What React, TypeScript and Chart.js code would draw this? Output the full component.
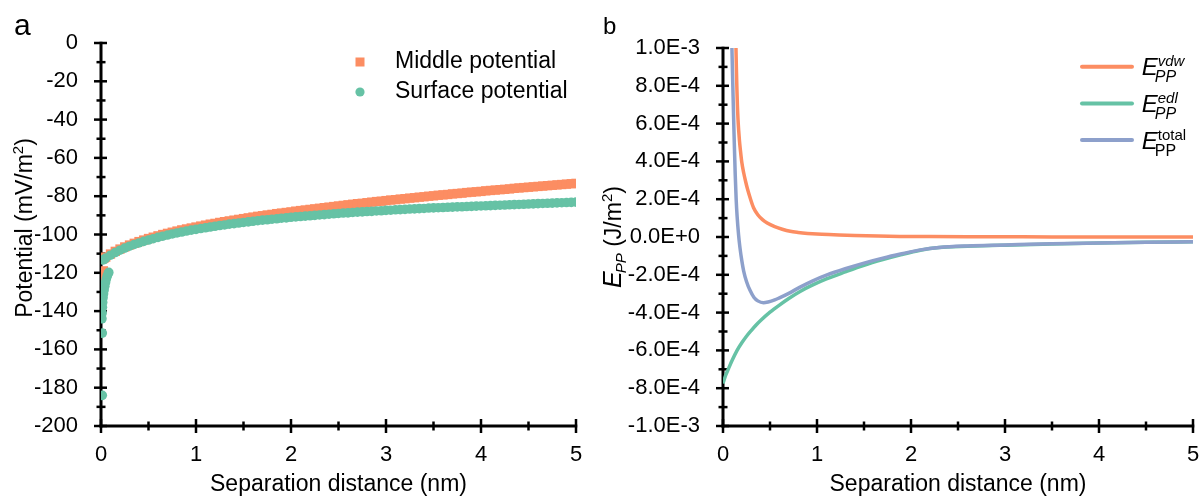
import React, { useEffect, useRef } from 'react';
import { Chart, registerables } from 'chart.js';

Chart.register(...registerables);

const FONT = "'Liberation Sans', Arial, Helvetica, sans-serif";
const ORANGE = '#FC8D62';
const GREEN = '#66C2A5';
const BLUE = '#8DA0CB';

// ---------- Panel a data ----------
const aCurveX = [0.05,0.1,0.15,0.2,0.25,0.3,0.35,0.4,0.45,0.5,0.55,0.6,0.65,0.7,0.75,0.8,0.85,0.9,0.95,1,1.05,1.1,1.15,1.2,1.25,1.3,1.35,1.4,1.45,1.5,1.55,1.6,1.65,1.7,1.75,1.8,1.85,1.9,1.95,2,2.05,2.1,2.15,2.2,2.25,2.3,2.35,2.4,2.45,2.5,2.55,2.6,2.65,2.7,2.75,2.8,2.85,2.9,2.95,3,3.05,3.1,3.15,3.2,3.25,3.3,3.35,3.4,3.45,3.5,3.55,3.6,3.65,3.7,3.75,3.8,3.85,3.9,3.95,4,4.05,4.1,4.15,4.2,4.25,4.3,4.35,4.4,4.45,4.5,4.55,4.6,4.65,4.7,4.75,4.8,4.85,4.9,4.95,5];
const middleCurveY = [-111.8,-110.2,-108.8,-107.6,-106.5,-105.5,-104.6,-103.7,-102.9,-102.1,
  -101.4,-100.7,-100.0,-99.4,-98.8,-98.2,-97.6,-97.1,-96.6,-96.1,
  -95.6,-95.1,-94.6,-94.2,-93.7,-93.3,-92.9,-92.5,-92.1,-91.7,
  -91.3,-90.9,-90.5,-90.2,-89.8,-89.5,-89.1,-88.8,-88.5,-88.2,
  -87.8,-87.5,-87.2,-86.9,-86.6,-86.3,-86.0,-85.7,-85.4,-85.1,
  -84.8,-84.5,-84.2,-83.9,-83.7,-83.4,-83.1,-82.8,-82.6,-82.3,
  -82.0,-81.8,-81.5,-81.3,-81.0,-80.8,-80.5,-80.3,-80.0,-79.8,
  -79.5,-79.3,-79.1,-78.8,-78.6,-78.4,-78.1,-77.9,-77.7,-77.5,
  -77.2,-77.0,-76.8,-76.6,-76.4,-76.2,-75.9,-75.7,-75.5,-75.3,
  -75.1,-74.9,-74.7,-74.5,-74.3,-74.1,-73.9,-73.7,-73.5,-73.3];
const surfaceCurveY = [-112.3,-110.8,-109.4,-108.2,-107.1,-106.1,-105.2,-104.4,-103.6,-102.9,
  -102.2,-101.5,-100.9,-100.3,-99.7,-99.2,-98.7,-98.2,-97.7,-97.3,
  -96.9,-96.5,-96.1,-95.7,-95.3,-95.0,-94.6,-94.3,-94.0,-93.7,
  -93.4,-93.1,-92.8,-92.5,-92.3,-92.0,-91.8,-91.5,-91.3,-91.0,
  -90.8,-90.6,-90.4,-90.2,-90.0,-89.8,-89.6,-89.4,-89.2,-89.0,
  -88.8,-88.7,-88.5,-88.3,-88.2,-88.0,-87.9,-87.7,-87.6,-87.4,
  -87.3,-87.1,-87.0,-86.9,-86.7,-86.6,-86.5,-86.4,-86.2,-86.1,
  -86.0,-85.9,-85.8,-85.7,-85.6,-85.5,-85.4,-85.3,-85.2,-85.1,
  -85.0,-84.9,-84.8,-84.7,-84.6,-84.5,-84.4,-84.3,-84.2,-84.1,
  -84.0,-83.9,-83.8,-83.7,-83.6,-83.5,-83.4,-83.3,-83.2,-83.1];
const middleNearX = [0.01, 0.015, 0.02, 0.025, 0.02, 0.035];
const middleNearY = [-124, -122, -120.5, -119, -112.6, -112.2];
const surfaceNearX = [0.014, 0.014, 0.01, 0.012, 0.015, 0.018, 0.022, 0.027, 0.033, 0.04, 0.048, 0.056, 0.065, 0.075, 0.082, 0.025, 0.035];
const surfaceNearY = [-184, -151.5, -144, -141, -138, -135.5, -133, -131, -129, -127, -125, -123.3, -121.8, -120.5, -119.8, -113.3, -112.9];

const xTicks = [0, 1, 2, 3, 4, 5];
const xTickLabels = ['0', '1', '2', '3', '4', '5'];
const aYTicks = [-200, -180, -160, -140, -120, -100, -80, -60, -40, -20, 0];
const aYTickLabels = ['-200', '-180', '-160', '-140', '-120', '-100', '-80', '-60', '-40', '-20', '0'];

// ---------- Panel b data ----------
const vdwX = [0.138,0.142,0.147,0.153,0.16,0.166,0.175,0.185,0.2,0.22,0.24,0.26,0.29,0.325,0.37,0.42,0.47,0.55,0.63,0.715,0.8,0.9,1.0,1.18,1.4,1.65,1.88,2.2,2.6,3.0,3.5,4.0,4.5,5.0];
const vdwY = [1.0e-3,9.0e-4,8.0e-4,7.0e-4,6.2e-4,5.7e-4,5.1e-4,4.6e-4,3.95e-4,3.4e-4,2.95e-4,2.55e-4,2.05e-4,1.55e-4,1.18e-4,9.2e-5,7.4e-5,5.5e-5,4.1e-5,3.0e-5,2.4e-5,1.9e-5,1.55e-5,1.2e-5,8e-6,5e-6,3e-6,2e-6,1.2e-6,8e-7,5e-7,3e-7,2e-7,1e-7];
const edlX = [0,0.03,0.06,0.1,0.15,0.2,0.25,0.3,0.35,0.4,0.5,0.6,0.7,0.82,0.95,1.1,1.3,1.5,1.7,1.9,2.1,2.3,2.6,3.0,3.5,4.0,4.5,5.0];
const edlY = [-7.75e-4,-7.3e-4,-6.95e-4,-6.5e-4,-6.0e-4,-5.6e-4,-5.25e-4,-4.95e-4,-4.67e-4,-4.42e-4,-3.98e-4,-3.6e-4,-3.25e-4,-2.88e-4,-2.55e-4,-2.22e-4,-1.85e-4,-1.5e-4,-1.2e-4,-9.3e-5,-7.0e-5,-5.6e-5,-4.9e-5,-4.3e-5,-3.7e-5,-3.2e-5,-2.8e-5,-2.5e-5];
const totalX = [0.095,0.1,0.105,0.11,0.115,0.12,0.13,0.14,0.15,0.166,0.18,0.2,0.22,0.25,0.29,0.33,0.37,0.43,0.48,0.55,0.6,0.7,0.82,0.95,1.1,1.3,1.5,1.7,1.9,2.1,2.3,2.6,3.0,3.5,4.0,4.5,5.0];
const totalY = [1.0e-3,8.9e-4,7.9e-4,6.9e-4,5.9e-4,5.0e-4,3.3e-4,2.0e-4,1.1e-4,1e-5,-5.5e-5,-1.25e-4,-1.8e-4,-2.35e-4,-2.85e-4,-3.2e-4,-3.38e-4,-3.48e-4,-3.44e-4,-3.33e-4,-3.22e-4,-2.98e-4,-2.65e-4,-2.33e-4,-2.02e-4,-1.68e-4,-1.38e-4,-1.12e-4,-8.9e-5,-6.8e-5,-5.5e-5,-4.7e-5,-4.2e-5,-3.6e-5,-3.2e-5,-2.8e-5,-2.5e-5];
const bYTicks = [-1e-3, -8e-4, -6e-4, -4e-4, -2e-4, 0, 2e-4, 4e-4, 6e-4, 8e-4, 1e-3];
const bYTickLabels = ['-1.0E-3', '-8.0E-4', '-6.0E-4', '-4.0E-4', '-2.0E-4', '0.0E+0', '2.0E-4', '4.0E-4', '6.0E-4', '8.0E-4', '1.0E-3'];

// ---------- helpers ----------
type Run = { t: string; size: number; italic?: boolean; dy?: number; dx?: number; hold?: boolean };
const runFont = (r: Run) => `${r.italic ? 'italic ' : ''}${r.size}px ${FONT}`;
function runsWidth(ctx: CanvasRenderingContext2D, runs: Run[]) {
  let w = 0, held = 0;
  for (const r of runs) {
    ctx.font = runFont(r);
    const rw = ctx.measureText(r.t).width + (r.dx || 0);
    if (r.hold) held = Math.max(held, rw);
    else { w += Math.max(rw, held); held = 0; }
  }
  return w + held;
}
function drawRuns(ctx: CanvasRenderingContext2D, runs: Run[], x: number, y: number) {
  let cx = x, held = 0;
  for (const r of runs) {
    ctx.font = runFont(r);
    ctx.fillText(r.t, cx + (r.dx || 0), y + (r.dy || 0));
    const rw = ctx.measureText(r.t).width + (r.dx || 0);
    if (r.hold) held = Math.max(held, rw);
    else { cx += Math.max(rw, held); held = 0; }
  }
}

function axesPlugin(xVals: number[], yVals: number[]) {
  return {
    id: 'crossAxes',
    beforeDatasetsDraw(chart: any) {
      const { ctx } = chart;
      const { left, right, top, bottom } = chart.chartArea;
      const xs = chart.scales.x, ys = chart.scales.y;
      ctx.save();
      ctx.strokeStyle = '#000';
      ctx.lineCap = 'butt';
      const seg = (x1: number, y1: number, x2: number, y2: number) => {
        ctx.beginPath(); ctx.moveTo(x1, y1); ctx.lineTo(x2, y2); ctx.stroke();
      };
      ctx.lineWidth = 2.5;
      yVals.forEach((v) => { const y = ys.getPixelForValue(v); seg(left - 7, y, left + 6, y); });
      for (let i = 0; i < yVals.length - 1; i++) {
        const y = ys.getPixelForValue((yVals[i] + yVals[i + 1]) / 2);
        seg(left - 4.5, y, left + 4.5, y);
      }
      xVals.forEach((v) => { const x = xs.getPixelForValue(v); seg(x, bottom - 7, x, bottom + 7); });
      for (let i = 0; i < xVals.length - 1; i++) {
        const x = xs.getPixelForValue((xVals[i] + xVals[i + 1]) / 2);
        seg(x, bottom - 4.5, x, bottom + 4.5);
      }
      ctx.lineWidth = 3;
      seg(left, top - 1.25, left, bottom + 1.5);
      seg(left - 1.5, bottom, right + 1.25, bottom);
      ctx.restore();
    },
  };
}

function baseScales(yTicks: number[], yLabels: string[], yMin: number, yMax: number, yWidth: number, yPad: number) {
  return {
    x: {
      type: 'linear', min: 0, max: 5,
      afterBuildTicks: (s: any) => { s.ticks = xTicks.map((v) => ({ value: v })); },
      afterFit: (s: any) => { s.height = 74; s.paddingLeft = 0; s.paddingRight = 0; },
      grid: { display: false }, border: { display: false },
      ticks: { autoSkip: false, maxRotation: 0, padding: 8, color: '#000', font: { family: FONT, size: 22 }, callback: (_v: any, i: number) => xTickLabels[i] },
      title: { display: true, text: 'Separation distance (nm)', color: '#000', font: { family: FONT, size: 23 }, padding: { top: 0, bottom: 2 } },
    },
    y: {
      type: 'linear', min: yMin, max: yMax,
      afterBuildTicks: (s: any) => { s.ticks = yTicks.map((v) => ({ value: v })); },
      afterFit: (s: any) => { s.width = yWidth; s.paddingTop = 0; s.paddingBottom = 0; },
      grid: { display: false }, border: { display: false },
      ticks: { autoSkip: false, padding: yPad, color: '#000', font: { family: FONT, size: 22 }, callback: (_v: any, i: number) => yLabels[i] },
    },
  };
}

const pts = (xs: number[], ys: number[]) => xs.map((x, i) => ({ x, y: ys[i] }));

export default function App() {
  const aRef = useRef<HTMLCanvasElement>(null);
  const bRef = useRef<HTMLCanvasElement>(null);

  useEffect(() => {
    const legendA = {
      id: 'legendA',
      afterDraw(chart: any) {
        const ctx = chart.ctx as CanvasRenderingContext2D;
        ctx.save();
        ctx.fillStyle = ORANGE;
        ctx.fillRect(355.5, 57.5, 9, 9);
        ctx.fillStyle = GREEN;
        ctx.beginPath(); ctx.arc(360, 92, 4.6, 0, Math.PI * 2); ctx.fill();
        ctx.fillStyle = '#000';
        ctx.font = `23px ${FONT}`;
        ctx.textBaseline = 'middle';
        ctx.textAlign = 'left';
        ctx.fillText('Middle potential', 395, 62);
        ctx.fillText('Surface potential', 395, 92);
        ctx.textBaseline = 'alphabetic';
        ctx.font = `30px ${FONT}`;
        ctx.fillText('a', 14, 35);
        const runs: Run[] = [
          { t: 'Potential (mV/m', size: 23 },
          { t: '2', size: 15, dy: -9 },
          { t: ')', size: 23 },
        ];
        ctx.translate(32, 228);
        ctx.rotate(-Math.PI / 2);
        const w = runsWidth(ctx, runs);
        drawRuns(ctx, runs, -w / 2, 0);
        ctx.restore();
      },
    };

    const legendB = {
      id: 'legendB',
      afterDraw(chart: any) {
        const ctx = chart.ctx as CanvasRenderingContext2D;
        ctx.save();
        const entries: { color: string; runs: Run[] }[] = [
          { color: ORANGE, runs: [{ t: 'E', size: 24, italic: true }, { t: 'vdw', size: 15, italic: true, dy: -9, hold: true }, { t: 'PP', size: 16, italic: true, dy: 7, dx: -3 }] },
          { color: GREEN, runs: [{ t: 'E', size: 24, italic: true }, { t: 'edl', size: 15, italic: true, dy: -9, hold: true }, { t: 'PP', size: 16, italic: true, dy: 7, dx: -3 }] },
          { color: BLUE, runs: [{ t: 'E', size: 24, italic: true }, { t: 'total', size: 15, dy: -9, hold: true }, { t: 'PP', size: 16, dy: 7, dx: -3 }] },
        ];
        entries.forEach((e, i) => {
          const ly = 66.7 + 36.7 * i;
          ctx.strokeStyle = e.color;
          ctx.lineWidth = 4;
          ctx.lineCap = 'round';
          ctx.beginPath(); ctx.moveTo(487, ly); ctx.lineTo(537, ly); ctx.stroke();
          ctx.fillStyle = '#000';
          ctx.textBaseline = 'alphabetic';
          ctx.textAlign = 'left';
          drawRuns(ctx, e.runs, 546.7, ly + 8.5);
        });
        ctx.fillStyle = '#000';
        ctx.font = `24px ${FONT}`;
        ctx.fillText('b', 8, 33.5);
        const runs: Run[] = [
          { t: 'E', size: 25, italic: true },
          { t: 'PP', size: 15, italic: true, dy: 5, dx: -2 },
          { t: ' (J/m', size: 23 },
          { t: '2', size: 15, dy: -9 },
          { t: ')', size: 23 },
        ];
        ctx.translate(25.5, 237);
        ctx.rotate(-Math.PI / 2);
        const w = runsWidth(ctx, runs);
        drawRuns(ctx, runs, -w / 2, 0);
        ctx.restore();
      },
    };

    const chartA = new Chart(aRef.current as HTMLCanvasElement, {
      type: 'scatter',
      data: {
        datasets: [
          {
            label: 'Surface potential',
            data: pts(surfaceNearX, surfaceNearY).concat(pts(aCurveX, surfaceCurveY)),
            pointStyle: 'circle', pointRadius: 4.8, borderWidth: 0,
            backgroundColor: GREEN, borderColor: GREEN,
          },
          {
            label: 'Middle potential',
            data: pts(middleNearX, middleNearY).concat(pts(aCurveX, middleCurveY)),
            pointStyle: 'rect', pointRadius: 6.6, borderWidth: 0,
            backgroundColor: ORANGE, borderColor: ORANGE,
          },
        ],
      },
      options: {
        animation: false, responsive: true, maintainAspectRatio: false, events: [],
        layout: { padding: { left: 0, right: 19, top: 43, bottom: 0 } },
        plugins: { legend: { display: false }, tooltip: { enabled: false } },
        scales: baseScales(aYTicks, aYTickLabels, -200, 0, 101, 15) as any,
      },
      plugins: [axesPlugin(xTicks, aYTicks), legendA],
    } as any);

    const lineDs = (label: string, xs: number[], ys: number[], color: string) => ({
      label, data: pts(xs, ys), showLine: true, pointRadius: 0, borderWidth: 3.5,
      borderColor: color, backgroundColor: color, cubicInterpolationMode: 'monotone',
    });

    const chartB = new Chart(bRef.current as HTMLCanvasElement, {
      type: 'scatter',
      data: {
        datasets: [
          lineDs('total', totalX, totalY, BLUE),
          lineDs('edl', edlX, edlY, GREEN),
          lineDs('vdw', vdwX, vdwY, ORANGE),
        ],
      },
      options: {
        animation: false, responsive: true, maintainAspectRatio: false, events: [],
        layout: { padding: { left: 0, right: 8, top: 48, bottom: 0 } },
        plugins: { legend: { display: false }, tooltip: { enabled: false } },
        scales: baseScales(bYTicks, bYTickLabels, -1e-3, 1e-3, 128, 15) as any,
      },
      plugins: [axesPlugin(xTicks, bYTicks), legendB],
    } as any);

    return () => { chartA.destroy(); chartB.destroy(); };
  }, []);

  return (
    <div style={{ position: 'absolute', left: 0, top: 0, width: 1201, height: 500, background: '#fff' }}>
      <div style={{ position: 'absolute', left: 0, top: 0, width: 595, height: 500 }}>
        <canvas ref={aRef} />
      </div>
      <div style={{ position: 'absolute', left: 595, top: 0, width: 606, height: 500 }}>
        <canvas ref={bRef} />
      </div>
    </div>
  );
}
